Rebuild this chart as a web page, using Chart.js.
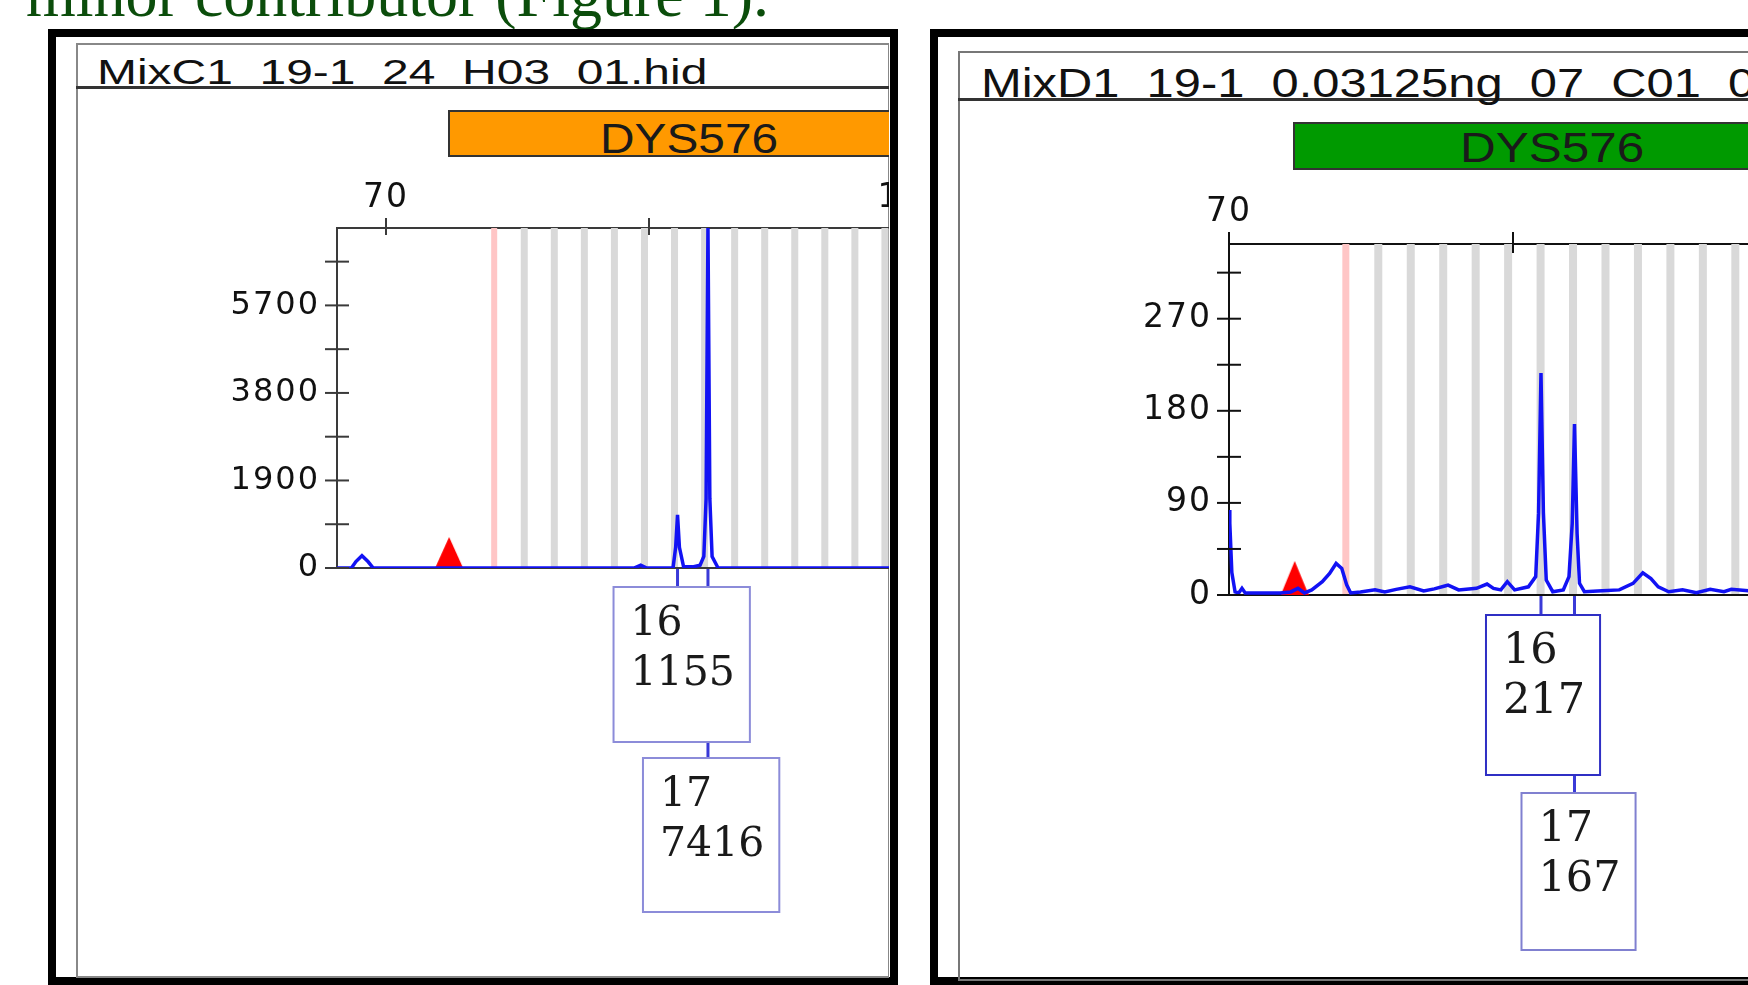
<!DOCTYPE html>
<html>
<head>
<meta charset="utf-8">
<script src="https://cdn.jsdelivr.net/npm/chart.js@4.4.1/dist/chart.umd.min.js"></script>
<style>
  html, body { margin: 0; padding: 0; background: #fff; }
  body { width: 1748px; height: 985px; position: relative; overflow: hidden; font-family: 'Liberation Sans', Arial, sans-serif; }
  #title { position: absolute; right: 979px; top: -37px; font-family: 'Liberation Serif', serif; font-size: 64px; line-height: 64px; color: #0b4d0b; white-space: nowrap; }
  .outer { position: absolute; border: 8px solid #000; box-sizing: border-box; }
  .clip { position: absolute; left: 0; top: 0; width: 1748px; height: 985px; }
  .frame { position: absolute; border: 2px solid #888; box-sizing: border-box; }
  .hline { position: absolute; height: 3px; background: #333; }
  .htext { position: absolute; white-space: pre; color: #111; line-height: 1; transform-origin: 0 0; }
  .bar { position: absolute; border: 2px solid #333; box-sizing: border-box; }
  .btext { position: absolute; white-space: pre; color: #1a1a1a; line-height: 1; font-size: 43px; transform-origin: 50% 0; }
  canvas { position: absolute; }
</style>
</head>
<body>
<div id="title">minor contributor (Figure 1).</div>

<!-- left panel -->
<div class="outer" style="left:48px; top:29px; width:850px; height:956px;"></div>
<div class="clip" style="clip-path: inset(41px 859px 0 74px);">
  <div class="frame" style="left:76px; top:43px; width:814px; height:935px;"></div>
  <div class="hline" style="left:76px; top:86px; width:814px;"></div>
  <div class="htext" id="hdrL" style="left:97px; top:54px; font-size:35px;">MixC1  19-1  24  H03  01.hid</div>
  <div class="bar" style="left:448px; top:110px; width:500px; height:47px; background:#ff9900;"></div>
  <div class="btext" id="barL" style="top:117px;">DYS576</div>
  <canvas id="chartL" width="800" height="820" style="left:200px; top:150px;"></canvas>
</div>

<!-- right panel -->
<div class="outer" style="left:930px; top:29px; width:900px; height:956px;"></div>
<div class="frame" style="left:958px; top:51px; width:900px; height:930px; border-color:#777;"></div>
<div class="hline" style="left:958px; top:98px; width:800px;"></div>
<div class="htext" id="hdrR" style="left:981px; top:63px; font-size:41px;">MixD1  19-1  0.03125ng  07  C01  01.hid</div>
<div class="bar" style="left:1293px; top:122px; width:500px; height:48px; background:#009a00;"></div>
<div class="btext" id="barR" style="top:126px;">DYS576</div>
<canvas id="chartR" width="900" height="820" style="left:1060px; top:160px;"></canvas>

<script>
// ---- data ----
const binSizes = [84.4, 88.4, 92.4, 96.4, 100.4, 104.4, 108.4, 112.4, 116.4, 120.4, 124.4, 128.4, 132.4, 136.4, 140.4, 144.4, 148.4, 152.4];
const xTickValues = [70, 105, 140];
const xTickLabels = ['70', '', '140'];

const alleles = ['16', '17'];

// MixC1 (left)
const leftAlleleSizes = [108.8, 112.85];
const leftHeights = [1155, 7416];
const leftMarkerSize = 78.4;
const leftYTicks = [0, 950, 1900, 2850, 3800, 4750, 5700, 6650];
const leftYLabels = ['0', '', '1900', '', '3800', '', '5700', ''];
const leftTraceX = [63.4, 65.4, 66.0, 66.8, 67.6, 68.3, 103.0, 103.9, 104.7, 108.2, 108.55, 108.8, 109.05, 109.6, 110.8, 111.8, 112.3, 112.6, 112.85, 113.1, 113.4, 114.2, 152];
const leftTraceY = [0, 0, 140, 265, 140, 0, 0, 60, 0, 0, 450, 1155, 450, 30, 25, 60, 250, 1500, 7416, 1500, 250, 0, 0];

// MixD1 (right)
const rightAlleleSizes = [108.45, 112.58];
const rightHeights = [217, 167];
const rightMarkerSize = 78.1;
const rightYTicks = [0, 45, 90, 135, 180, 225, 270, 315];
const rightYLabels = ['0', '', '90', '', '180', '', '270', ''];
const rightTraceX = [70.0, 70.1, 70.35, 70.75, 71.2, 71.6, 72.0, 76.3, 77.6, 78.5, 79.3, 80.2, 81.5, 82.4, 83.2, 83.9, 84.5, 85.0, 86.2, 88.0,
  89.2, 90.6, 92.3, 94.0, 95.3, 96.6, 97.0, 98.3, 100.5, 101.8, 102.6, 103.5, 104.3, 105.2, 106.9, 107.8, 108.15, 108.45, 108.75, 109.1,
  109.9, 111.2, 111.9, 112.3, 112.58, 112.9, 113.2, 113.8, 116.0, 118.1, 119.8, 121.0, 122.0, 122.9, 124.2, 125.9, 127.6, 129.3, 131.0, 131.9,
  134.0, 150.0];
const rightTraceY = [83, 70, 22, 3, 2, 6.5, 2, 2, 3, 6.5, 2, 5, 13, 21, 30.8, 26, 10, 2, 3, 5,
  3, 5.5, 8, 4, 6, 8.8, 9.7, 5, 6.5, 10.7, 6.5, 5, 13, 5, 8, 18, 80, 217, 80, 14.6,
  3.2, 5, 18, 70, 167, 60, 11.4, 3.2, 4.2, 5, 11.4, 21.7, 16, 8, 3.2, 5, 2.3, 5.5, 3.2, 5.5,
  4.2, 4];

// ---- helpers ----
function triangleMarker(w, h) {
  const c = document.createElement('canvas');
  c.width = w; c.height = h * 2;
  const g = c.getContext('2d');
  g.fillStyle = '#ff0000';
  g.beginPath(); g.moveTo(0, h); g.lineTo(w / 2, 0); g.lineTo(w, h); g.closePath(); g.fill();
  return c;
}

// bins, crossing ticks and allele label boxes
const electroPlugin = {
  id: 'electro',
  beforeDraw(chart) {
    chart.ctx.letterSpacing = '2px';
  },
  beforeDatasetsDraw(chart, args, o) {
    const ctx = chart.ctx, a = chart.chartArea, xs = chart.scales.x;
    ctx.save();
    binSizes.forEach((b, i) => {
      const px = xs.getPixelForValue(b);
      ctx.fillStyle = i === 0 ? '#ffc6c6' : '#d9d9d9';
      const w = i === 0 ? o.binW - 1 : o.binW;
      ctx.fillRect(px - w / 2, a.top, w, a.bottom - a.top);
    });
    ctx.strokeStyle = o.axisColor; ctx.lineWidth = 2;
    ctx.beginPath(); ctx.moveTo(a.left, a.bottom); ctx.lineTo(a.right, a.bottom); ctx.stroke();
    ctx.restore();
  },
  afterDraw(chart, args, o) {
    const ctx = chart.ctx, a = chart.chartArea, xs = chart.scales.x, ys = chart.scales.y;
    ctx.save();
    ctx.letterSpacing = '0px';
    ctx.strokeStyle = o.axisColor; ctx.lineWidth = 2;
    ys.ticks.forEach(t => {
      const py = ys.getPixelForValue(t.value);
      ctx.beginPath(); ctx.moveTo(a.left - 12, py); ctx.lineTo(a.left + 12, py); ctx.stroke();
    });
    xs.ticks.forEach(t => {
      const px = xs.getPixelForValue(t.value);
      ctx.beginPath(); ctx.moveTo(px, a.top - o.xTickUp); ctx.lineTo(px, a.top + o.xTickDown); ctx.stroke();
    });

    // allele label boxes
    ctx.font = o.labelFont + 'px "DejaVu Serif"';
    const p0 = xs.getPixelForValue(o.sizes[0]);
    const p1 = xs.getPixelForValue(o.sizes[1]);
    const top1 = a.bottom + o.boxTop;
    const bot1 = top1 + o.boxH[0];
    const top2 = bot1 + o.boxGap;
    const bot2 = top2 + o.boxH[1];
    ctx.strokeStyle = '#3a3ad8'; ctx.lineWidth = 3;
    ctx.beginPath();
    ctx.moveTo(p0, a.bottom + 1); ctx.lineTo(p0, top1);
    ctx.moveTo(p1, a.bottom + 1); ctx.lineTo(p1, top1);
    ctx.moveTo(p1, bot1); ctx.lineTo(p1, top2);
    ctx.stroke();
    const boxes = [[p0 - o.offsets[0], top1, bot1, 0], [p1 - o.offsets[1], top2, bot2, 1]];
    boxes.forEach(([left, top, bottom, i]) => {
      const lines = [alleles[i], String(o.heights[i])];
      const tw = Math.max(...lines.map(s => ctx.measureText(s).width));
      ctx.fillStyle = '#fff';
      ctx.fillRect(left, top, tw + 32, bottom - top);
      ctx.strokeStyle = o.boxColors[i]; ctx.lineWidth = 2;
      ctx.strokeRect(left, top, tw + 32, bottom - top);
      ctx.fillStyle = '#1a1a1a';
      ctx.textBaseline = 'alphabetic'; ctx.textAlign = 'left';
      ctx.fillText(lines[0], left + 17, top + 48);
      ctx.fillText(lines[1], left + 17, top + 98);
    });
    ctx.restore();
  }
};

function makeChart(id, c) {
  const chart = new Chart(document.getElementById(id), {
    type: 'scatter',
    data: {
      datasets: [
        {
          data: c.traceX.map((x, i) => ({ x: x, y: c.traceY[i] })),
          showLine: true, borderColor: '#1212f4', borderWidth: 3.5,
          pointRadius: 0, tension: 0, order: 1
        },
        {
          data: [{ x: c.marker, y: 0 }],
          pointStyle: triangleMarker(28, c.markerH), pointRadius: 14, order: 2
        }
      ]
    },
    options: {
      responsive: false, animation: false, devicePixelRatio: 1,
      layout: { padding: { left: 0, right: 0, top: 0, bottom: c.padBottom } },
      plugins: {
        legend: { display: false }, tooltip: { enabled: false },
        electro: c.plugin
      },
      scales: {
        x: {
          type: 'linear', position: 'top', min: c.xMin, max: c.xMin + 80,
          afterBuildTicks: s => { s.ticks = xTickValues.map(v => ({ value: v })); },
          afterFit: s => { s.height = c.xAxisH; },
          ticks: {
            autoSkip: false, maxRotation: 0, padding: c.xPad, color: '#111',
            font: { family: 'DejaVu Sans', size: 33 },
            callback: (v, i) => xTickLabels[i]
          },
          grid: { display: true, drawOnChartArea: false, drawTicks: false },
          border: { display: true, color: c.plugin.axisColor, width: 2 }
        },
        y: {
          type: 'linear', position: 'left', min: 0, max: c.yMax,
          afterBuildTicks: s => { s.ticks = c.yTicks.map(v => ({ value: v })); },
          afterFit: s => { s.width = c.yAxisW; },
          ticks: {
            autoSkip: false, padding: 17, color: '#111',
            font: { family: 'DejaVu Sans', size: c.yFont },
            callback: (v, i) => c.yLabels[i]
          },
          grid: { display: true, drawOnChartArea: false, drawTicks: false },
          border: { display: true, color: c.plugin.axisColor, width: 2 }
        }
      }
    },
    plugins: [electroPlugin]
  });
  // keep the figure's pixels-per-base-pair whatever width the layout leaves
  for (let k = 0; k < 3; k++) {
    const a = chart.chartArea;
    chart.options.scales.x.max = c.xMin + (a.right - a.left) / c.pxPerBp;
    chart.update();
  }
  return chart;
}

makeChart('chartL', {
  traceX: leftTraceX, traceY: leftTraceY, marker: leftMarkerSize, markerH: 31,
  xMin: 63.48, pxPerBp: 7.514, yMax: 7380, yTicks: leftYTicks, yLabels: leftYLabels,
  yAxisW: 137, xAxisH: 78, padBottom: 402, xPad: 10, yFont: 32,
  plugin: {
    binW: 7, axisColor: '#3a3a3a', xTickUp: 10, xTickDown: 7,
    sizes: leftAlleleSizes, heights: leftHeights, labelFont: 41,
    boxTop: 19, boxH: [155, 154], boxGap: 16, offsets: [64, 65],
    boxColors: ['#8c8cd9', '#8c8cd9']
  }
});

makeChart('chartR', {
  traceX: rightTraceX, traceY: rightTraceY, marker: rightMarkerSize, markerH: 34,
  xMin: 70, pxPerBp: 8.114, yMax: 343, yTicks: rightYTicks, yLabels: rightYLabels,
  yAxisW: 169, xAxisH: 84, padBottom: 385, xPad: 12, yFont: 33,
  plugin: {
    binW: 8, axisColor: '#111', xTickUp: 12, xTickDown: 9,
    sizes: rightAlleleSizes, heights: rightHeights, labelFont: 43,
    boxTop: 20, boxH: [160, 157], boxGap: 18, offsets: [55, 53],
    boxColors: ['#2f2fc4', '#8080d0']
  }
});

// stretch the header and bar captions to the widths seen in the figure
const hdrL = document.getElementById('hdrL');
const sx = 611 / hdrL.offsetWidth;
hdrL.style.transform = 'scaleX(' + sx + ')';
document.getElementById('hdrR').style.transform = 'scaleX(' + (sx * 0.87) + ')';
[['barL', 689, 178], ['barR', 1552, 184]].forEach(([id, cx, w]) => {
  const el = document.getElementById(id);
  el.style.left = (cx - el.offsetWidth / 2) + 'px';
  el.style.transform = 'scaleX(' + (w / el.offsetWidth) + ')';
});
</script>
</body>
</html>
